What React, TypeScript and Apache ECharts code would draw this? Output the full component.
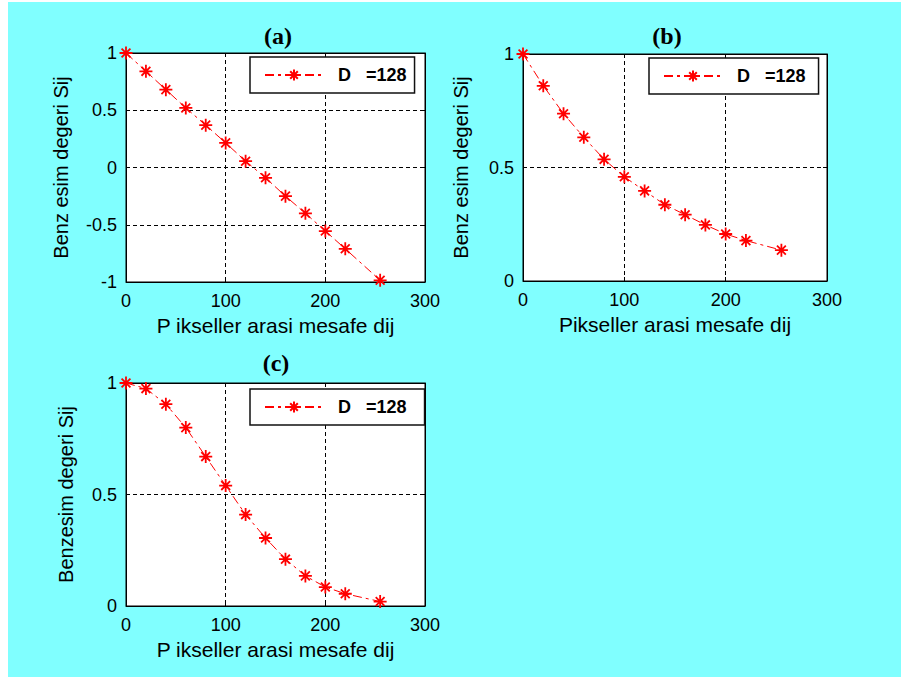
import React, { useEffect, useRef } from "react";
import * as echarts from "echarts";

const X_VALUES = [0, 20, 40, 60, 80, 100, 120, 140, 160, 180, 200, 220, 255];
const SERIES_A = [1, 0.84, 0.68, 0.52, 0.37, 0.215, 0.055, -0.09, -0.25, -0.4, -0.555, -0.71, -0.985];
const SERIES_B = [1, 0.86, 0.737, 0.633, 0.536, 0.459, 0.397, 0.336, 0.292, 0.247, 0.207, 0.178, 0.136];
const SERIES_C = [1, 0.975, 0.905, 0.8, 0.67, 0.54, 0.41, 0.305, 0.21, 0.135, 0.085, 0.055, 0.02];
const LEGEND_LABEL = "D   =128";
const TITLES = ["(a)", "(b)", "(c)"];
const X_NAMES = ["P ikseller arasi mesafe dij", "Pikseller arasi mesafe dij", "P ikseller arasi mesafe dij"];
const Y_NAMES = ["Benz esim degeri Sij", "Benz esim degeri Sij", "Benzesim degeri Sij"];
const Y_RANGES = [[-1, 1], [0, 1], [0, 1]];
const X_RANGE = [0, 300];

const STAR =
  "path://M5 0L5 10M0 5L10 5M1.6 1.6L8.4 8.4M1.6 8.4L8.4 1.6";

const LAYOUT = [
  { left: 126, top: 53, width: 299, height: 229, yGap: 55, xGap: 33, title: [278, 24], legend: [250, 57] },
  { left: 523, top: 54, width: 304, height: 227, yGap: 52, xGap: 33, title: [667, 24], legend: [649, 58] },
  { left: 126, top: 383, width: 299, height: 223, yGap: 50, xGap: 33, title: [276, 351], legend: [250, 389] },
];

export default function App() {
  const ref = useRef<HTMLDivElement>(null);
  useEffect(() => {
    document.body.style.margin = "0";
    if (!ref.current) return;
    const chart = echarts.init(ref.current, null, { renderer: "svg" });
    const seriesData = [SERIES_A, SERIES_B, SERIES_C];
    const font = "'Liberation Sans', Arial, sans-serif";
    const grids: any[] = [];
    const xAxes: any[] = [];
    const yAxes: any[] = [];
    const series: any[] = [];
    const legends: any[] = [];
    const graphics: any[] = [
      { type: "rect", z: -10, shape: { x: 8, y: 2, width: 893, height: 675 }, style: { fill: "#80ffff" } },
    ];
    const grid = { show: true, lineStyle: { color: "#000", type: [4, 3], width: 1 } };
    LAYOUT.forEach((L, i) => {
      grids.push({
        left: L.left, top: L.top, width: L.width, height: L.height,
        show: true, backgroundColor: "#ffffff", borderColor: "#000", borderWidth: 1,
      });
      const name = LEGEND_LABEL + " ".repeat(i);
      xAxes.push({
        type: "value", gridIndex: i, position: "bottom",
        min: X_RANGE[0], max: X_RANGE[1], interval: 100,
        name: X_NAMES[i], nameLocation: "middle", nameGap: L.xGap,
        nameTextStyle: { fontFamily: font, fontSize: 21, color: "#000" },
        axisLine: { show: true, onZero: false, lineStyle: { color: "#000", width: 1 } },
        axisTick: { show: true, inside: true, length: 4, lineStyle: { color: "#000" } },
        axisLabel: { fontFamily: font, fontSize: 18, color: "#000", margin: 10 },
        splitLine: grid,
      });
      xAxes.push({
        type: "value", gridIndex: i, position: "top",
        min: X_RANGE[0], max: X_RANGE[1], interval: 100,
        axisLine: { show: true, onZero: false, lineStyle: { color: "#000", width: 1 } },
        axisTick: { show: true, inside: true, length: 4, lineStyle: { color: "#000" } },
        axisLabel: { show: false },
        splitLine: { show: false },
      });
      yAxes.push({
        type: "value", gridIndex: i, position: "left",
        min: Y_RANGES[i][0], max: Y_RANGES[i][1], interval: 0.5,
        name: Y_NAMES[i], nameLocation: "middle", nameGap: L.yGap,
        nameTextStyle: { fontFamily: font, fontSize: 20, color: "#000" },
        axisLine: { show: true, onZero: false, lineStyle: { color: "#000", width: 1 } },
        axisTick: { show: true, inside: true, length: 4, lineStyle: { color: "#000" } },
        axisLabel: { fontFamily: font, fontSize: 18, color: "#000", margin: 9 },
        splitLine: grid,
      });
      yAxes.push({
        type: "value", gridIndex: i, position: "right",
        min: Y_RANGES[i][0], max: Y_RANGES[i][1], interval: 0.5,
        axisLine: { show: true, onZero: false, lineStyle: { color: "#000", width: 1 } },
        axisTick: { show: true, inside: true, length: 4, lineStyle: { color: "#000" } },
        axisLabel: { show: false },
        splitLine: { show: false },
      });
      series.push({
        type: "line", name,
        xAxisIndex: i * 2, yAxisIndex: i * 2,
        data: X_VALUES.map((x, k) => [x, seriesData[i][k]]),
        symbol: STAR, symbolSize: 13, showSymbol: true,
        lineStyle: { color: "#ff0000", width: 1, type: [9, 4, 3, 4] },
        itemStyle: { color: "rgba(0,0,0,0)", borderColor: "#ff0000", borderWidth: 1.8 },
        z: 5,
      });
      legends.push({
        data: [name], left: L.legend[0], top: L.legend[1],
        orient: "horizontal", selectedMode: false,
        padding: [9, 8, 9, 14], itemWidth: 58, itemHeight: 14,
        backgroundColor: "#ffffff", borderColor: "#111", borderWidth: 1.5, borderRadius: 0,
        textStyle: { fontFamily: font, fontSize: 18, fontWeight: "bold", color: "#000", padding: [0, 0, 0, 10] },
      });
      graphics.push({
        type: "text", x: L.title[0], y: L.title[1], z: 10,
        style: {
          text: TITLES[i], textAlign: "center", textVerticalAlign: "top",
          font: "bold 24px 'Liberation Serif', 'Times New Roman', serif", fill: "#000",
        },
      });
    });
    chart.setOption({
      animation: false,
      backgroundColor: "#ffffff",
      grid: grids,
      xAxis: xAxes,
      yAxis: yAxes,
      series,
      legend: legends,
      graphic: graphics,
    });
    return () => chart.dispose();
  }, []);
  return <div ref={ref} style={{ width: 901, height: 677 }} />;
}
